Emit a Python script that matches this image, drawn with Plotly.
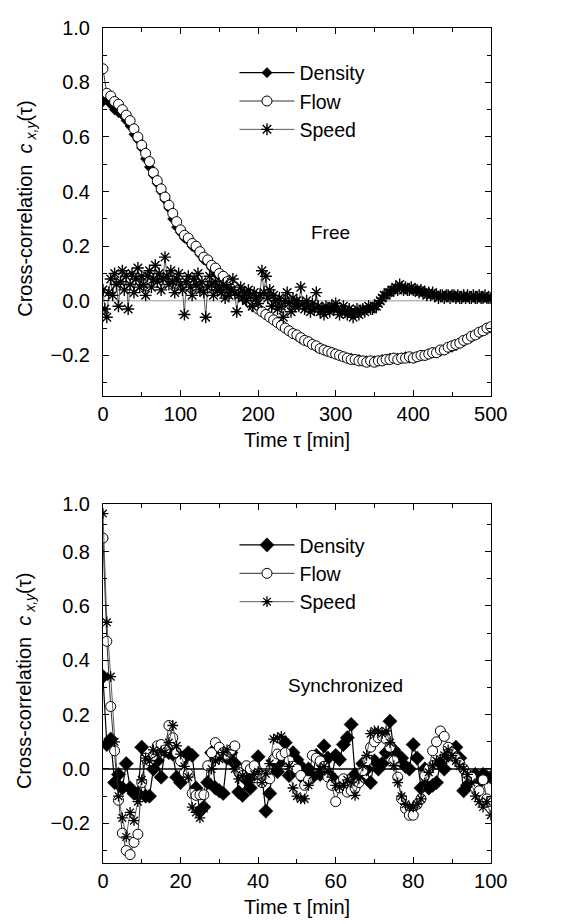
import plotly.graph_objects as go

# ---------------- data ----------------
# Top panel ("Free"), tau in minutes (5-min steps for density/flow, 2.5-min for speed)
tau_free = list(range(0, 505, 5))
free_density = [0.73, 0.74, 0.72, 0.70, 0.69, 0.68, 0.66, 0.64, 0.61, 0.59, 0.56, 0.52, 0.49, 0.46, 0.43, 0.40, 0.37,
                 0.34, 0.30, 0.27, 0.25, 0.23, 0.22, 0.20, 0.19, 0.17, 0.15, 0.14, 0.12, 0.10, 0.09, 0.08, 0.06, 0.05,
                 0.04, 0.03, 0.02, 0.00, -0.01, -0.02, -0.03, -0.04, -0.05, -0.06, -0.07, -0.08, -0.09, -0.10, -0.11,
                 -0.12, -0.13, -0.14, -0.145, -0.15, -0.16, -0.17, -0.175, -0.18, -0.185, -0.19, -0.195, -0.20, -0.205,
                 -0.21, -0.21, -0.215, -0.215, -0.22, -0.22, -0.22, -0.22, -0.22, -0.215, -0.215, -0.21, -0.21, -0.21,
                 -0.21, -0.205, -0.21, -0.21, -0.205, -0.20, -0.20, -0.195, -0.19, -0.19, -0.185, -0.18, -0.175, -0.17,
                 -0.165, -0.155, -0.15, -0.14, -0.135, -0.125, -0.12, -0.11, -0.105, -0.10]
free_flow = [0.85, 0.76, 0.75, 0.73, 0.72, 0.70, 0.68, 0.66, 0.63, 0.60, 0.57, 0.54, 0.51, 0.47, 0.44, 0.41, 0.38,
             0.35, 0.32, 0.29, 0.26, 0.24, 0.23, 0.21, 0.20, 0.18, 0.16, 0.15, 0.13, 0.12, 0.10, 0.09, 0.07, 0.06,
             0.05, 0.04, 0.02, 0.01, -0.01, -0.02, -0.03, -0.04, -0.05, -0.06, -0.07, -0.08, -0.09, -0.10, -0.11,
             -0.12, -0.125, -0.135, -0.145, -0.15, -0.16, -0.165, -0.175, -0.18, -0.185, -0.19, -0.195, -0.20, -0.205,
             -0.21, -0.215, -0.215, -0.22, -0.22, -0.225, -0.22, -0.225, -0.22, -0.22, -0.215, -0.215, -0.21, -0.215,
             -0.21, -0.21, -0.205, -0.21, -0.205, -0.20, -0.20, -0.195, -0.19, -0.19, -0.18, -0.18, -0.17, -0.165,
             -0.16, -0.155, -0.145, -0.14, -0.13, -0.125, -0.115, -0.11, -0.10, -0.095]
tau_free_speed = [i * 2.5 for i in range(201)]
free_speed = [
    # 0 - 50
    0.04, -0.03, -0.06, 0.03, 0.08, 0.02, 0.10, 0.06, -0.02, 0.07, 0.11, 0.04, 0.09, -0.03, 0.06, 0.10, 0.03, 0.08,
    0.12, 0.05, 0.09,
    # 52.5 - 100
    0.06, 0.02, 0.09, 0.11, 0.05, 0.08, 0.13, 0.07, 0.10, 0.04, 0.08, 0.16, 0.09, 0.06, 0.11, 0.07, 0.03, 0.08, 0.10,
    0.06,
    # 102.5 - 150
    0.04, -0.05, 0.07, 0.09, 0.05, 0.02, 0.08, 0.06, 0.10, 0.04, 0.07, 0.03, -0.06, 0.05, 0.09, 0.06, 0.02, 0.07, 0.04,
    0.05,
    # 152.5 - 200
    0.03, 0.06, 0.01, 0.05, 0.02, 0.04, 0.08, 0.03, -0.04, 0.02, 0.05, 0.01, 0.03, 0.00, 0.04, 0.02, -0.02, 0.03, 0.01,
    -0.01,
    # 202.5 - 250
    0.02, 0.11, 0.03, 0.09, 0.01, 0.04, -0.02, 0.02, 0.00, -0.03, 0.01, -0.02, -0.06, 0.00, 0.03, -0.01, -0.04, 0.01,
    -0.02, 0.00,
    # 252.5 - 300
    -0.02, 0.05, -0.01, -0.03, 0.00, -0.02, -0.04, -0.01, -0.03, 0.03, -0.02, -0.04, -0.03, -0.05, -0.02, -0.03, -0.04,
    -0.02, -0.03, -0.01,
    # 302.5 - 350
    -0.03, -0.05, -0.04, -0.02, -0.04, -0.05, -0.03, -0.04, -0.06, -0.04, -0.03, -0.05, -0.04, -0.03, -0.04, -0.03,
    -0.02, -0.03, -0.03, -0.02,
    # 352.5 - 400
    -0.02, -0.01, 0.00, 0.01, 0.02, 0.02, 0.03, 0.03, 0.04, 0.04, 0.05, 0.04, 0.06, 0.05, 0.04, 0.05, 0.04, 0.04, 0.05,
    0.04,
    # 402.5 - 450
    0.04, 0.04, 0.03, 0.04, 0.03, 0.03, 0.02, 0.03, 0.02, 0.03, 0.02, 0.02, 0.01, 0.02, 0.02, 0.01, 0.02, 0.02, 0.01,
    0.02,
    # 452.5 - 500
    0.02, 0.01, 0.02, 0.01, 0.01, 0.02, 0.01, 0.02, 0.01, 0.01, 0.02, 0.01, 0.01, 0.02, 0.01, 0.01, 0.02, 0.01, 0.01,
    0.01,
]

# Bottom panel ("Synchronized"), tau in minutes (1-min steps)
tau_sync = list(range(0, 101))
sync_density = [0.34, 0.09, 0.11, -0.05, -0.02, -0.07, 0.02, -0.07, -0.09, -0.09, 0.08, -0.10, -0.10, 0.00, 0.03,
                -0.03, 0.07, 0.06, 0.055, -0.03, -0.05, 0.04, 0.06, 0.05, -0.07, -0.155, -0.14, -0.05, 0.06, -0.07,
                -0.08, -0.09, 0.04, 0.06, 0.02, -0.085, -0.097, -0.04, -0.07, -0.02, 0.045, -0.03, -0.155, -0.09,
                0.03, -0.01, 0.03, 0.097, -0.024, 0.06, 0.034, 0.01, -0.04, 0.00, -0.03, 0.05, -0.02, 0.085, 0.04,
                -0.03, 0.05, 0.035, 0.09, 0.115, 0.164, -0.02, -0.04, 0.02, 0.00, -0.05, 0.03, 0.00, 0.02, 0.06,
                0.176, 0.07, 0.05, 0.04, 0.01, 0.00, 0.09, 0.04, -0.07, 0.00, -0.07, -0.06, -0.05, 0.02, 0.00, 0.05,
                0.07, 0.08, 0.04, -0.08, -0.06, -0.05, -0.02, -0.05, -0.02, -0.03, -0.03]
sync_flow = [0.85, 0.47, 0.23, 0.067, -0.115, -0.236, -0.30, -0.315, -0.27, -0.24, -0.05, 0.04, 0.03, 0.05, 0.085,
             0.09, 0.07, 0.16, 0.115, 0.06, 0.03, -0.012, -0.018, -0.09, -0.097, -0.095, -0.095, 0.012, 0.06, 0.097,
             0.08, 0.06, 0.05, 0.07, 0.085, -0.012, -0.024, 0.012, 0.00, 0.012, -0.018, -0.05, -0.024, -0.036,
             0.036, 0.055, 0.05, 0.06, 0.03, 0.01, 0.00, -0.024, -0.06, -0.04, 0.05, 0.04, 0.03, 0.01, -0.03, -0.06,
             -0.12, -0.07, -0.036, -0.085, -0.08, -0.07, -0.05, -0.006, 0.03, 0.08, 0.10, 0.115, 0.12, 0.11, 0.08,
             0.03, -0.03, -0.11, -0.145, -0.17, -0.17, -0.13, -0.11, -0.024, 0.00, 0.067, 0.10, 0.14, 0.12, 0.08,
             0.06, 0.04, 0.02, 0.00, -0.02, -0.03, -0.07, -0.08, -0.04, -0.11, -0.12]
sync_speed = [0.94, 0.54, 0.34, 0.10, -0.10, -0.18, -0.25, -0.16, -0.19, -0.12, -0.04, 0.04, 0.03, 0.07, 0.055,
              0.067, 0.06, 0.097, 0.16, 0.085, 0.055, 0.01, -0.03, -0.14, -0.16, -0.18, -0.145, -0.05, 0.00, 0.03,
              0.036, 0.06, 0.07, 0.036, 0.00, -0.036, -0.024, -0.03, -0.05, -0.02, -0.01, -0.05, -0.018, 0.02, 0.11,
              0.115, 0.12, 0.097, 0.01, -0.07, -0.10, -0.11, -0.11, -0.06, -0.024, -0.018, 0.00, 0.01, -0.01, -0.03,
              -0.06, -0.067, -0.06, -0.04, -0.05, -0.097, -0.036, 0.012, 0.05, 0.13, 0.14, 0.14, 0.13, 0.14, 0.097,
              0.012, -0.05, -0.10, -0.13, -0.14, -0.14, -0.13, -0.11, -0.05, -0.012, 0.012, 0.03, 0.036, 0.05, 0.07,
              0.05, 0.03, 0.01, 0.00, -0.02, -0.05, -0.10, -0.12, -0.14, -0.12, -0.17]

series_names = ["Density", "Flow", "Speed"]
top_ticks = [-0.2, 0.0, 0.2, 0.4, 0.6, 0.8, 1.0]
top_ticktext = ["\u22120.2", "0.0", "0.2", "0.4", "0.6", "0.8", "1.0"]
bot_ticks = [-0.2, 0.0, 0.2, 0.4, 0.6, 0.8, 0.975]
bot_ticktext = ["\u22120.2", "0.0", "0.2", "0.4", "0.6", "0.8", "1.0"]

# ---------------- figure ----------------
W, H = 575, 924
FONT = "Liberation Sans"
FS = 20
FS_LEG = 19.5

def px_x(p):
    return p / W

def px_y(p):
    return 1 - p / H

fig = go.Figure()

def add_series(xd, dens, flow, xs, speed, xa, ya, leg, big):
    dsz, fsz, ssz = (11, 10, 9) if big else (8, 10, 10)
    fig.add_trace(go.Scatter(
        x=xd, y=dens, name=series_names[0], mode="lines+markers", xaxis=xa, yaxis=ya, legend=leg,
        legendgroup=leg + "d",
        line=dict(color="black", width=1.2),
        marker=dict(symbol="diamond", size=dsz, color="black", line=dict(color="black", width=0.5))))
    fig.add_trace(go.Scatter(
        x=xd, y=flow, name=series_names[1], mode="lines+markers", xaxis=xa, yaxis=ya, legend=leg,
        legendgroup=leg + "f",
        line=dict(color="black", width=0.8),
        marker=dict(symbol="circle", size=fsz, color="white", line=dict(color="black", width=1))))
    fig.add_trace(go.Scatter(
        x=xs, y=speed, name=series_names[2], mode="lines+markers", xaxis=xa, yaxis=ya, legend=leg,
        legendgroup=leg + "s",
        line=dict(color="#333", width=0.8),
        marker=dict(symbol="asterisk-open", size=ssz, color="black",
                    line=dict(color="black", width=1.3 if big else 1.4))))

add_series(tau_free, free_density, free_flow, tau_free_speed, free_speed, "x", "y", "legend", False)
add_series(tau_sync, sync_density, sync_flow, tau_sync, sync_speed, "x2", "y2", "legend2", True)

xdom = [px_x(101), px_x(505)]
axis_common = dict(showline=True, linecolor="black", linewidth=1, mirror="ticks", ticks="inside",
                   ticklen=6, tickcolor="black", showgrid=False, zeroline=False,
                   tickfont=dict(family=FONT, size=FS, color="black"))

fig.update_layout(
    width=W, height=H, margin=dict(l=0, r=0, t=0, b=0),
    paper_bgcolor="white", plot_bgcolor="white",
    font=dict(family=FONT, size=FS, color="black"),
    xaxis=dict(domain=xdom, anchor="y", range=[0, 500], tickvals=[0, 100, 200, 300, 400, 500],
               ticklabelstandoff=0,
               minor=dict(dtick=50, ticks="inside", ticklen=4, tickcolor="black"), **axis_common),
    yaxis=dict(domain=[px_y(390), px_y(17)], anchor="x", range=[-0.35, 1.0], tickvals=top_ticks,
               ticktext=top_ticktext, ticklabelstandoff=8,
               minor=dict(dtick=0.1, ticks="inside", ticklen=4, tickcolor="black"), **axis_common),
    xaxis2=dict(domain=xdom, anchor="y2", range=[0, 100], tickvals=[0, 20, 40, 60, 80, 100],
                ticklabelstandoff=0,
                minor=dict(dtick=10, ticks="inside", ticklen=4, tickcolor="black"), **axis_common),
    yaxis2=dict(domain=[px_y(862), px_y(499)], anchor="x2", range=[-0.345, 0.975], tickvals=bot_ticks,
                ticktext=bot_ticktext, ticklabelstandoff=8,
                minor=dict(tickvals=[-0.3, -0.1, 0.1, 0.3, 0.5, 0.7, 0.9], ticks="inside", ticklen=4,
                           tickcolor="black"), **axis_common),
    legend=dict(x=px_x(238), y=px_y(43), xanchor="left", yanchor="top", bgcolor="rgba(0,0,0,0)",
                font=dict(family=FONT, size=FS_LEG), itemwidth=55, tracegroupgap=2, traceorder="normal"),
    legend2=dict(x=px_x(238), y=px_y(521), xanchor="left", yanchor="top", bgcolor="rgba(0,0,0,0)",
                 font=dict(family=FONT, size=FS_LEG), itemwidth=55, tracegroupgap=2, traceorder="normal"),
    showlegend=True,
)

# zero reference lines
fig.add_shape(type="line", xref="x domain", yref="y", x0=0, x1=1, y0=0, y1=0,
              line=dict(color="#999", width=1), layer="below")
fig.add_shape(type="line", xref="x2 domain", yref="y2", x0=0, x1=1, y0=0, y1=0,
              line=dict(color="black", width=1.3), layer="below")

ytitle = "Cross-correlation  <i>c</i><sub> <i>x,y</i></sub>(\u03c4)"
annots = [
    dict(text=ytitle, x=px_x(21), y=px_y(200), textangle=-90, size=FS),
    dict(text=ytitle, x=px_x(21), y=px_y(678), textangle=-90, size=FS),
    dict(text="Time \u03c4 [min]", x=px_x(303), y=px_y(434), size=FS),
    dict(text="Time \u03c4 [min]", x=px_x(303), y=px_y(907), size=FS),
    dict(text="Free", x=px_x(338), y=px_y(224), size=19),
    dict(text="Synchronized", x=px_x(354), y=px_y(683), size=19),
]
for a in annots:
    sz = a.pop("size")
    fig.add_annotation(xref="paper", yref="paper", showarrow=False, xanchor="center", yanchor="middle",
                       font=dict(family=FONT, size=sz, color="black"), **a)

fig.write_html("out.html")
